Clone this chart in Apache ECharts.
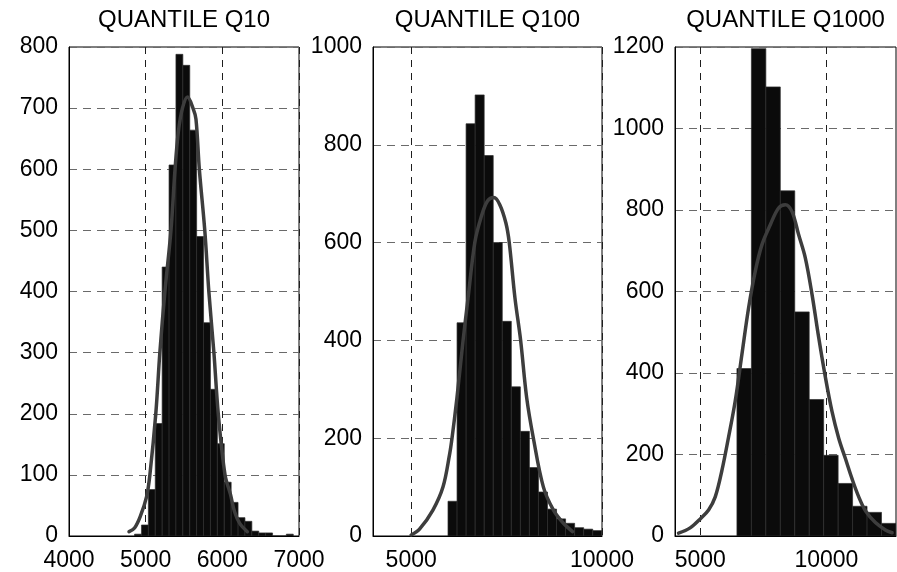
<!DOCTYPE html>
<html>
<head>
<meta charset="utf-8">
<script src="https://cdn.jsdelivr.net/npm/echarts@6/dist/echarts.min.js"></script>
<style>
  html, body { margin: 0; padding: 0; background: #fff; }
  #chart { width: 897px; height: 572px; }
</style>
</head>
<body>
<div id="chart"></div>
<script>
// --- data ---
var titles = ['QUANTILE Q10', 'QUANTILE Q100', 'QUANTILE Q1000'];

// histogram bin edges and counts
var q10Edges = [4855, 4945, 5035, 5125, 5215, 5305, 5395, 5485, 5575, 5665, 5755, 5845,
  5935, 6025, 6115, 6205, 6295, 6385, 6475, 6565, 6655, 6745, 6835, 6925];
var q10Counts = [3, 18, 76, 184, 440, 607, 788, 770, 664, 490, 349, 240,
  151, 88, 55, 30, 24, 8, 5, 5, 0, 0, 3];

var q100Edges = [5965, 6202, 6439, 6676, 6913, 7150, 7387, 7624, 7861, 8098, 8335, 8572,
  8809, 9046, 9283, 9520, 9757, 9994];
var q100Counts = [71, 436, 843, 902, 778, 600, 439, 305, 214, 140, 90, 55, 35, 26, 17, 14, 11];

var q1000Edges = [6455, 7028, 7601, 8174, 8747, 9320, 9893, 10466, 11039, 11612, 12185, 12758];
var q1000Counts = [411, 1196, 1102, 847, 550, 335, 198, 129, 73, 58, 31];

// fitted curves [x, count]
var q10Curve = [[4783, 7], [4855, 13], [4930, 32], [5013, 65], [5055, 100], [5132, 200], [5185, 300],
  [5251, 400], [5330, 500], [5383, 600], [5427, 662], [5480, 700], [5546, 718], [5617, 700],
  [5656, 682], [5700, 600], [5771, 500], [5824, 400], [5890, 300], [5947, 200], [6035, 100],
  [6106, 68], [6159, 40], [6225, 21], [6326, 7]];
var q100Curve = [[5000, 2], [5219, 14], [5570, 53], [5833, 100], [6009, 168], [6070, 200], [6200, 283],
  [6360, 400], [6491, 487], [6667, 600], [6825, 650], [7000, 685], [7167, 692], [7325, 677],
  [7482, 640], [7570, 600], [7719, 487], [7868, 400], [8026, 283], [8202, 200], [8465, 100],
  [8728, 53], [8991, 26], [9228, 9]];
var q1000Curve = [[4140, 7], [4600, 20], [5000, 42], [5331, 64], [5595, 96], [5860, 161], [6124, 243],
  [6389, 332], [6653, 446], [6918, 560], [7183, 650], [7447, 715], [7778, 764], [8108, 805],
  [8373, 813], [8638, 796], [8902, 739], [9167, 682], [9431, 593], [9696, 487], [9960, 390],
  [10225, 305], [10489, 240], [10754, 190], [11019, 140], [11283, 96], [11548, 62], [11944, 33],
  [12341, 15], [12606, 8]];

// axis ranges and ticks
var xMin = [4000, 4000, 4000];
var xMax = [7000, 10000, 12760];
var xTicks = [[4000, 5000, 6000, 7000], [5000, 10000], [5000, 10000]];
var yMax = [800, 1000, 1200];
var yStep = [100, 200, 200];

var font = '"Liberation Sans", Arial, Helvetica, sans-serif';
var grids = [
  { left: 69, top: 47, width: 230, height: 489 },
  { left: 373, top: 47, width: 229, height: 489 },
  { left: 675, top: 47, width: 221, height: 489 }
];

function binData(edges, counts) {
  var out = [];
  for (var i = 0; i < counts.length; i++) out.push([edges[i], edges[i + 1], counts[i]]);
  return out;
}

function renderBin(params, api) {
  var p0 = api.coord([api.value(0), api.value(2)]);
  var p1 = api.coord([api.value(1), 0]);
  return {
    type: 'rect',
    shape: { x: p0[0], y: p0[1], width: p1[0] - p0[0], height: p1[1] - p0[1] },
    style: { fill: '#0b0b0b', stroke: '#2e2e2e', lineWidth: 0.7 }
  };
}

function plain(v) { return String(v); }

var hist = [binData(q10Edges, q10Counts), binData(q100Edges, q100Counts), binData(q1000Edges, q1000Counts)];
var curves = [q10Curve, q100Curve, q1000Curve];

var chart = echarts.init(document.getElementById('chart'), null, { renderer: 'canvas' });

var option = {
  animation: false,
  backgroundColor: '#fff',
  title: [],
  grid: [],
  xAxis: [],
  yAxis: [],
  series: []
};

for (var i = 0; i < 3; i++) {
  var g = grids[i];
  option.title.push({
    text: titles[i], left: g.left + g.width / 2, top: 8, textAlign: 'center', padding: 0,
    textStyle: { fontFamily: font, fontSize: 24, fontWeight: 'normal', color: '#000' }
  });
  option.grid.push({
    left: g.left, top: g.top, width: g.width, height: g.height,
    show: true, borderColor: '#000', borderWidth: 1, backgroundColor: 'transparent'
  });
  var xa = {
    gridIndex: i, type: 'value', min: xMin[i], max: xMax[i],
    axisLine: { show: true, onZero: false, lineStyle: { color: '#000', width: 1 } },
    axisTick: { show: false },
    axisLabel: { color: '#000', fontFamily: font, fontSize: 23, margin: 13, formatter: plain },
    splitLine: { show: true, lineStyle: { color: '#1e1e1e', width: 1, type: [7, 6] } }
  };
  if (i === 0) {
    xa.interval = 1000;
  } else {
    xa.axisTick.customValues = xTicks[i];
    xa.axisLabel.customValues = xTicks[i];
  }
  option.xAxis.push(xa);
  option.yAxis.push({
    gridIndex: i, type: 'value', min: 0, max: yMax[i], interval: yStep[i],
    axisLine: { show: true, lineStyle: { color: '#000', width: 1 } },
    axisTick: { show: false },
    axisLabel: { color: '#000', fontFamily: font, fontSize: 23, margin: 11, formatter: plain },
    splitLine: { show: true, lineStyle: { color: '#6a6a6a', width: 1, type: [8, 6] } }
  });
  option.series.push({
    type: 'custom', xAxisIndex: i, yAxisIndex: i, clip: true,
    renderItem: renderBin, encode: { x: [0, 1], y: 2 },
    data: hist[i], z: 2
  });
  option.series.push({
    type: 'line', xAxisIndex: i, yAxisIndex: i, data: curves[i],
    smooth: 0.35, showSymbol: false, symbol: 'none',
    lineStyle: { color: '#3d3d3d', width: 3.5, cap: 'round', join: 'round' },
    z: 3
  });
}

chart.setOption(option);
window.addEventListener('resize', function() { chart.resize(); });
</script>
</body>
</html>
